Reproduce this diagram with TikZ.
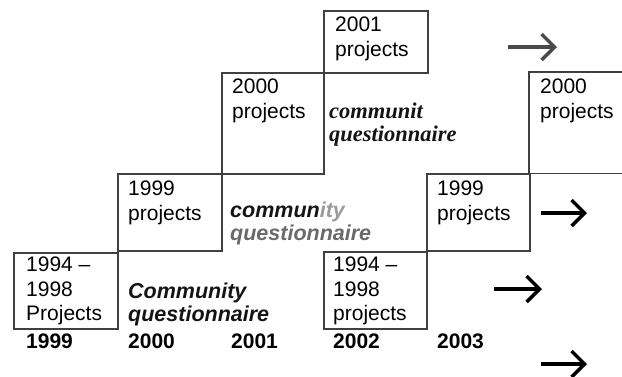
\documentclass[tikz,border=0pt]{standalone}
\usepackage{fontspec}
\setmainfont{Liberation Sans}
\newfontfamily\serifbi{Liberation Serif}
\usetikzlibrary{arrows.meta,calc}
\definecolor{linegray}{HTML}{404040}
\definecolor{arrgray}{HTML}{4A4A4A}
\definecolor{inkdark}{HTML}{141414}
\definecolor{inkmid}{HTML}{6A6A6A}
\definecolor{inklight}{HTML}{9A9A9A}
\begin{document}
\begin{tikzpicture}[x=1pt,y=-1pt,
  frame/.style={draw=linegray,line width=1.6pt,rectangle,anchor=north west,inner sep=0pt},
  openframe/.style={rectangle,anchor=north west,inner sep=0pt},
  boxtxt/.style={anchor=north west,inner sep=0pt,align=left,font=\fontsize{21}{24.5}\selectfont},
  yearlbl/.style={anchor=base west,inner sep=0pt,font=\fontsize{21}{24}\selectfont\bfseries},
  commsans/.style={anchor=base west,inner sep=0pt,font=\fontsize{21.5}{24}\selectfont\bfseries\itshape},
  commserif/.style={anchor=base west,inner sep=0pt,font=\fontsize{22.5}{24}\selectfont\serifbi\bfseries\itshape},
  arr/.style={line width=3.2pt,-{Straight Barb[length=13pt,width=26pt,line width=3.4pt]}}]
\useasboundingbox (0,0) rectangle (622,376);

% boxes
\node[frame,minimum width=104pt,minimum height=76pt] (b94) at (13,252) {};
\node[frame,minimum width=104pt,minimum height=77pt] (b99) at (117,173) {};
\node[frame,minimum width=102pt,minimum height=101pt] (b00) at (221,72) {};
\node[frame,minimum width=104pt,minimum height=62pt] (b01) at (323,10) {};
\node[openframe,minimum width=93pt,minimum height=101pt] (r00) at (529,72) {};
\draw[linegray,line width=1.6pt] (r00.north east) -- (r00.north west) -- (r00.south west) -- (r00.south east);
\node[frame,minimum width=103pt,minimum height=77pt] (r99) at (426,173) {};
\node[frame,minimum width=103pt,minimum height=77pt] (r94) at (323,251) {};

% box texts
\node[boxtxt] (t94) at ($(b94.north west)+(13,5)$) {1994 --\\1998\\Projects};
\node[boxtxt] (t99) at ($(b99.north west)+(11,8)$) {1999\\projects};
\node[boxtxt] (t00) at ($(b00.north west)+(11,7)$) {2000\\projects};
\node[boxtxt] (t01) at ($(b01.north west)+(12,7)$) {2001\\projects};
\node[boxtxt] (tr00) at ($(r00.north west)+(11,7)$) {2000\\projects};
\node[boxtxt] (tr99) at ($(r99.north west)+(11,8)$) {1999\\projects};
\node[boxtxt] (tr94) at ($(r94.north west)+(10,6)$) {1994 --\\1998\\projects};

% community questionnaire texts
\node[commsans,text=inkdark] (c1a) at (128,298) {Community};
\node[commsans,text=inkdark] (c1b) at (128,321) {questionnaire};
\node[commsans,text=inkdark] (c2a) at (230,217) {commun\textcolor{inklight}{ity}};
\node[commsans,text=inkmid] (c2b) at (230,240) {questionnaire};
\node[commserif,text=inkdark] (c3a) at (329,118) {communit};
\node[commserif,text=inkdark] (c3b) at (329,141) {questionnaire};

% year labels
\node[yearlbl] (y1999) at (26,348) {1999};
\node[yearlbl] (y2000) at (128,348) {2000};
\node[yearlbl] (y2001) at (231,348) {2001};
\node[yearlbl] (y2002) at (333,348) {2002};
\node[yearlbl] (y2003) at (437,348) {2003};

% arrows
\coordinate (a1s) at (508,47);  \coordinate (a1e) at (557,47);
\coordinate (a2s) at (541,213); \coordinate (a2e) at (587,213);
\coordinate (a3s) at (494,289); \coordinate (a3e) at (542,289);
\coordinate (a4s) at (541,364); \coordinate (a4e) at (587,364);
\draw[arr,arrgray] (a1s) -- (a1e);
\draw[arr,black] (a2s) -- (a2e);
\draw[arr,black] (a3s) -- (a3e);
\draw[arr,black] (a4s) -- (a4e);
\end{tikzpicture}
\end{document}
